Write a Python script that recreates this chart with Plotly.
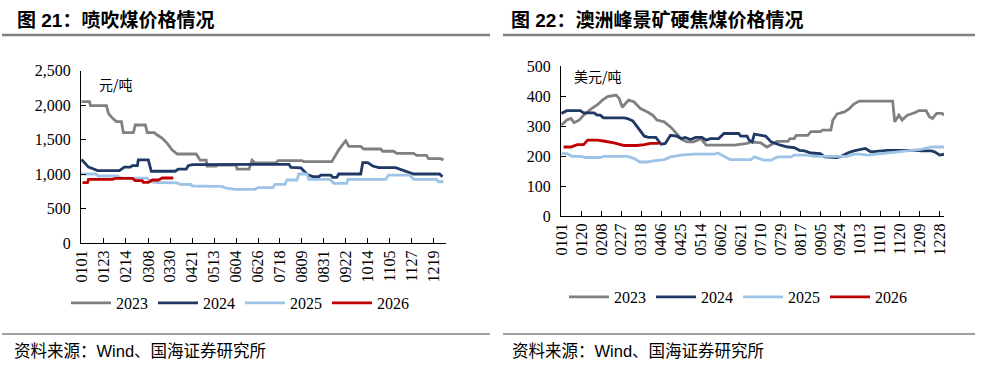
import plotly.graph_objects as go
import pandas as pd

W, H = 982, 370

# ---------------- data ----------------
series_names = ["2023", "2024", "2025", "2026"]
colors = ["#808080", "#1F3864", "#9DC3E6", "#C00000"]

# Chart 21: injection coal price (元/吨), x = day index from 0101 (leap-year calendar)
l23_day = [0, 8, 9, 25, 27, 31, 35, 40, 42, 52, 54, 64, 66, 73, 76, 81, 86, 91, 96, 115, 119, 125, 126, 135, 137, 155, 156, 168, 171, 174, 195, 197, 221, 223, 251, 254, 258, 262, 265, 268, 280, 283, 300, 302, 313, 316, 333, 336, 346, 348, 360, 363]
l23_val = [2050, 2050, 1990, 1990, 1880, 1810, 1760, 1760, 1600, 1600, 1710, 1710, 1600, 1600, 1565, 1517, 1444, 1348, 1290, 1290, 1200, 1200, 1116, 1116, 1130, 1130, 1072, 1072, 1200, 1160, 1160, 1195, 1195, 1178, 1178, 1260, 1350, 1430, 1483, 1400, 1400, 1362, 1362, 1330, 1330, 1300, 1300, 1270, 1270, 1222, 1222, 1205]
l24_day = [0, 3, 7, 11, 16, 38, 43, 49, 51, 56, 57, 67, 70, 94, 97, 105, 107, 111, 127, 131, 208, 210, 220, 222, 227, 232, 238, 240, 250, 252, 256, 258, 280, 282, 287, 292, 298, 315, 322, 329, 333, 359, 362]
l24_val = [1210, 1160, 1100, 1080, 1050, 1050, 1100, 1100, 1120, 1120, 1205, 1205, 1040, 1040, 1070, 1070, 1120, 1135, 1135, 1145, 1140, 1095, 1090, 1058, 990, 962, 962, 985, 985, 952, 952, 1000, 1000, 1164, 1164, 1116, 1091, 1091, 1058, 1019, 1000, 1000, 961]
l25_day = [0, 14, 17, 36, 39, 66, 69, 76, 96, 99, 110, 111, 133, 141, 144, 154, 174, 177, 192, 194, 204, 206, 216, 218, 226, 228, 249, 253, 266, 267, 305, 308, 329, 333, 356, 358, 363]
l25_val = [1000, 1000, 971, 971, 945, 940, 890, 877, 870, 850, 848, 826, 820, 820, 800, 778, 778, 802, 802, 850, 850, 913, 913, 1000, 1000, 923, 923, 865, 865, 923, 923, 985, 985, 923, 923, 888, 888]
l26_day = [1, 6, 7, 31, 34, 51, 54, 61, 62, 67, 71, 77, 81, 92]
l26_val = [874, 874, 923, 923, 937, 937, 903, 903, 879, 879, 913, 913, 942, 942]

left_ticklabels = ["0101", "0123", "0214", "0308", "0330", "0421", "0513", "0604", "0626",
                   "0718", "0809", "0831", "0922", "1014", "1105", "1127", "1219"]
left_yticks = [0, 500, 1000, 1500, 2000, 2500]

# Chart 22: Peak Downs hard coking coal (美元/吨), x = day index from 0101 (non-leap calendar)
r23_day = [0, 5, 9, 12, 17, 21, 25, 29, 34, 39, 44, 52, 55, 58, 61, 64, 69, 75, 82, 87, 91, 98, 104, 110, 115, 120, 126, 133, 138, 165, 177, 181, 190, 196, 203, 206, 216, 218, 222, 224, 235, 238, 247, 249, 257, 259, 263, 270, 275, 279, 284, 316, 318, 322, 325, 330, 337, 341, 348, 351, 354, 358, 363, 365]
r23_val = [303, 320, 325, 311, 320, 336, 347, 359, 370, 386, 398, 403, 392, 362, 375, 386, 381, 359, 347, 336, 320, 314, 297, 275, 255, 247, 247, 258, 236, 236, 242, 247, 244, 230, 242, 249, 249, 258, 258, 269, 269, 281, 281, 286, 286, 320, 340, 347, 359, 373, 383, 383, 314, 336, 320, 336, 344, 351, 351, 331, 325, 342, 342, 336]
r24_day = [0, 5, 18, 21, 31, 34, 37, 40, 60, 63, 68, 71, 74, 79, 83, 90, 95, 99, 104, 110, 114, 118, 123, 128, 134, 138, 142, 150, 155, 169, 171, 177, 179, 182, 184, 190, 195, 200, 204, 209, 216, 222, 227, 232, 238, 247, 251, 257, 263, 267, 273, 279, 285, 290, 295, 305, 311, 337, 344, 353, 356, 361, 365]
r24_val = [342, 351, 351, 344, 344, 336, 336, 327, 327, 325, 317, 303, 286, 266, 262, 262, 239, 242, 269, 266, 258, 262, 255, 262, 262, 253, 258, 258, 275, 275, 266, 266, 253, 247, 273, 270, 266, 247, 242, 236, 230, 228, 219, 217, 210, 208, 197, 195, 195, 199, 210, 217, 222, 225, 214, 217, 219, 219, 217, 217, 214, 203, 206]
r25_day = [0, 5, 10, 18, 23, 37, 40, 63, 69, 75, 82, 88, 98, 104, 114, 126, 146, 149, 155, 161, 181, 184, 193, 200, 206, 219, 222, 235, 241, 273, 279, 285, 292, 305, 317, 330, 343, 353, 365]
r25_val = [208, 208, 199, 199, 195, 195, 199, 199, 192, 180, 180, 184, 188, 197, 203, 206, 206, 210, 199, 188, 188, 197, 186, 186, 197, 197, 203, 203, 199, 199, 206, 206, 203, 208, 214, 219, 222, 230, 230]
r26_day = [2, 9, 15, 21, 25, 34, 40, 50, 60, 72, 79, 85, 93]
r26_val = [230, 230, 238, 238, 253, 253, 250, 244, 235, 235, 238, 242, 242]

right_ticklabels = ["0101", "0120", "0208", "0227", "0318", "0406", "0425", "0514", "0602", "0621",
                    "0710", "0729", "0817", "0905", "0924", "1013", "1101", "1120", "1209", "1228"]
right_yticks = [0, 100, 200, 300, 400, 500]

title_left = "图 21：喷吹煤价格情况"
title_right = "图 22：澳洲峰景矿硬焦煤价格情况"
unit_left = "元/吨"
unit_right = "美元/吨"
source_text = "资料来源：Wind、国海证券研究所"


def day_index(labels, year):
    start = pd.Timestamp(f"{year}-01-01")
    return [(pd.Timestamp(f"{year}-{s[:2]}-{s[2:]}") - start).days for s in labels]


left_tickvals = day_index(left_ticklabels, 2024)
right_tickvals = day_index(right_ticklabels, 2023)

# ---------------- figure ----------------
fig = go.Figure()

left_sets = [(l23_day, l23_val), (l24_day, l24_val), (l25_day, l25_val), (l26_day, l26_val)]
right_sets = [(r23_day, r23_val), (r24_day, r24_val), (r25_day, r25_val), (r26_day, r26_val)]

for name, col, (xs, ys) in zip(series_names, colors, left_sets):
    fig.add_trace(go.Scatter(x=xs, y=ys, mode="lines", name=name, line=dict(color=col, width=2.8),
                             xaxis="x", yaxis="y", legend="legend", hoverinfo="skip"))
for name, col, (xs, ys) in zip(series_names, colors, right_sets):
    fig.add_trace(go.Scatter(x=xs, y=ys, mode="lines", name=name, line=dict(color=col, width=2.8),
                             xaxis="x2", yaxis="y2", legend="legend2", hoverinfo="skip"))

def px_x(v):
    return v / W

def px_y(v):
    return 1 - v / H

tickfont = dict(family="Liberation Serif, Noto Serif, serif", size=16, color="#000000")

axis_common = dict(ticks="inside", ticklen=5, tickcolor="black", showline=True, linecolor="black",
                   linewidth=1, showgrid=False, zeroline=False, tickfont=tickfont, automargin=False,
                   tickmode="array", fixedrange=True)

fig.update_layout(
    template="none",
    width=W, height=H,
    margin=dict(l=0, r=0, t=0, b=0, pad=0, autoexpand=False),
    paper_bgcolor="white", plot_bgcolor="white",
    showlegend=True,
    xaxis=dict(domain=[px_x(81), px_x(446)], range=[-0.5, 365.5],
               tickvals=left_tickvals, ticktext=left_ticklabels, tickangle=-90, anchor="y", **axis_common),
    yaxis=dict(domain=[px_y(243), px_y(70.5)], range=[0, 2500],
               tickvals=left_yticks, tickformat=",d", anchor="x", ticklabelstandoff=6, **axis_common),
    xaxis2=dict(domain=[px_x(561), px_x(944)], range=[-0.5, 365],
                tickvals=right_tickvals, ticktext=right_ticklabels, tickangle=-90, anchor="y2", **axis_common),
    yaxis2=dict(domain=[px_y(216), px_y(66)], range=[0, 500],
                tickvals=right_yticks, anchor="x2", ticklabelstandoff=6, **axis_common),
    legend=dict(orientation="h", x=px_x(66), y=px_y(303), xanchor="left", yanchor="middle",
                font=tickfont, itemwidth=40, bgcolor="rgba(0,0,0,0)", tracegroupgap=0),
    legend2=dict(orientation="h", x=px_x(564), y=px_y(297), xanchor="left", yanchor="middle",
                 font=tickfont, itemwidth=40, bgcolor="rgba(0,0,0,0)", tracegroupgap=0),
)

title_font = dict(family="Liberation Sans, Noto Sans CJK SC", size=19, color="#000000")
cjk_font = dict(family="Liberation Sans, Noto Sans CJK SC", size=16.5, color="#000000")
unit_font = dict(family="Noto Sans CJK SC", size=14, color="#000000")

annotations = [
    dict(text=f"<b>{title_left}</b>", x=px_x(15), y=px_y(20), xanchor="left", yanchor="middle", font=title_font),
    dict(text=f"<b>{title_right}</b>", x=px_x(509), y=px_y(20), xanchor="left", yanchor="middle", font=title_font),
    dict(text=source_text, x=px_x(12), y=px_y(351), xanchor="left", yanchor="middle", font=cjk_font),
    dict(text=source_text, x=px_x(510), y=px_y(351), xanchor="left", yanchor="middle", font=cjk_font),
    dict(text=unit_left, x=px_x(97), y=px_y(84), xanchor="left", yanchor="middle", font=unit_font),
    dict(text=unit_right, x=px_x(572), y=px_y(76), xanchor="left", yanchor="middle", font=unit_font),
]
for a in annotations:
    a.update(xref="paper", yref="paper", showarrow=False)
fig.update_layout(annotations=annotations)

shapes = [
    dict(type="line", x0=px_x(2), x1=px_x(490), y0=px_y(35), y1=px_y(35), line=dict(color="#7F7F7F", width=2.5)),
    dict(type="line", x0=px_x(503), x1=px_x(975), y0=px_y(35), y1=px_y(35), line=dict(color="#7F7F7F", width=2.5)),
    dict(type="line", x0=px_x(2), x1=px_x(490), y0=px_y(334), y1=px_y(334), line=dict(color="#7F7F7F", width=1.5)),
    dict(type="line", x0=px_x(503), x1=px_x(975), y0=px_y(334), y1=px_y(334), line=dict(color="#7F7F7F", width=1.5)),
]
for s in shapes:
    s.update(xref="paper", yref="paper")
fig.update_layout(shapes=shapes)

fig.write_html("out.html", config={"displayModeBar": False},
               post_script="document.body.style.margin='0';document.body.style.overflow='hidden';")
